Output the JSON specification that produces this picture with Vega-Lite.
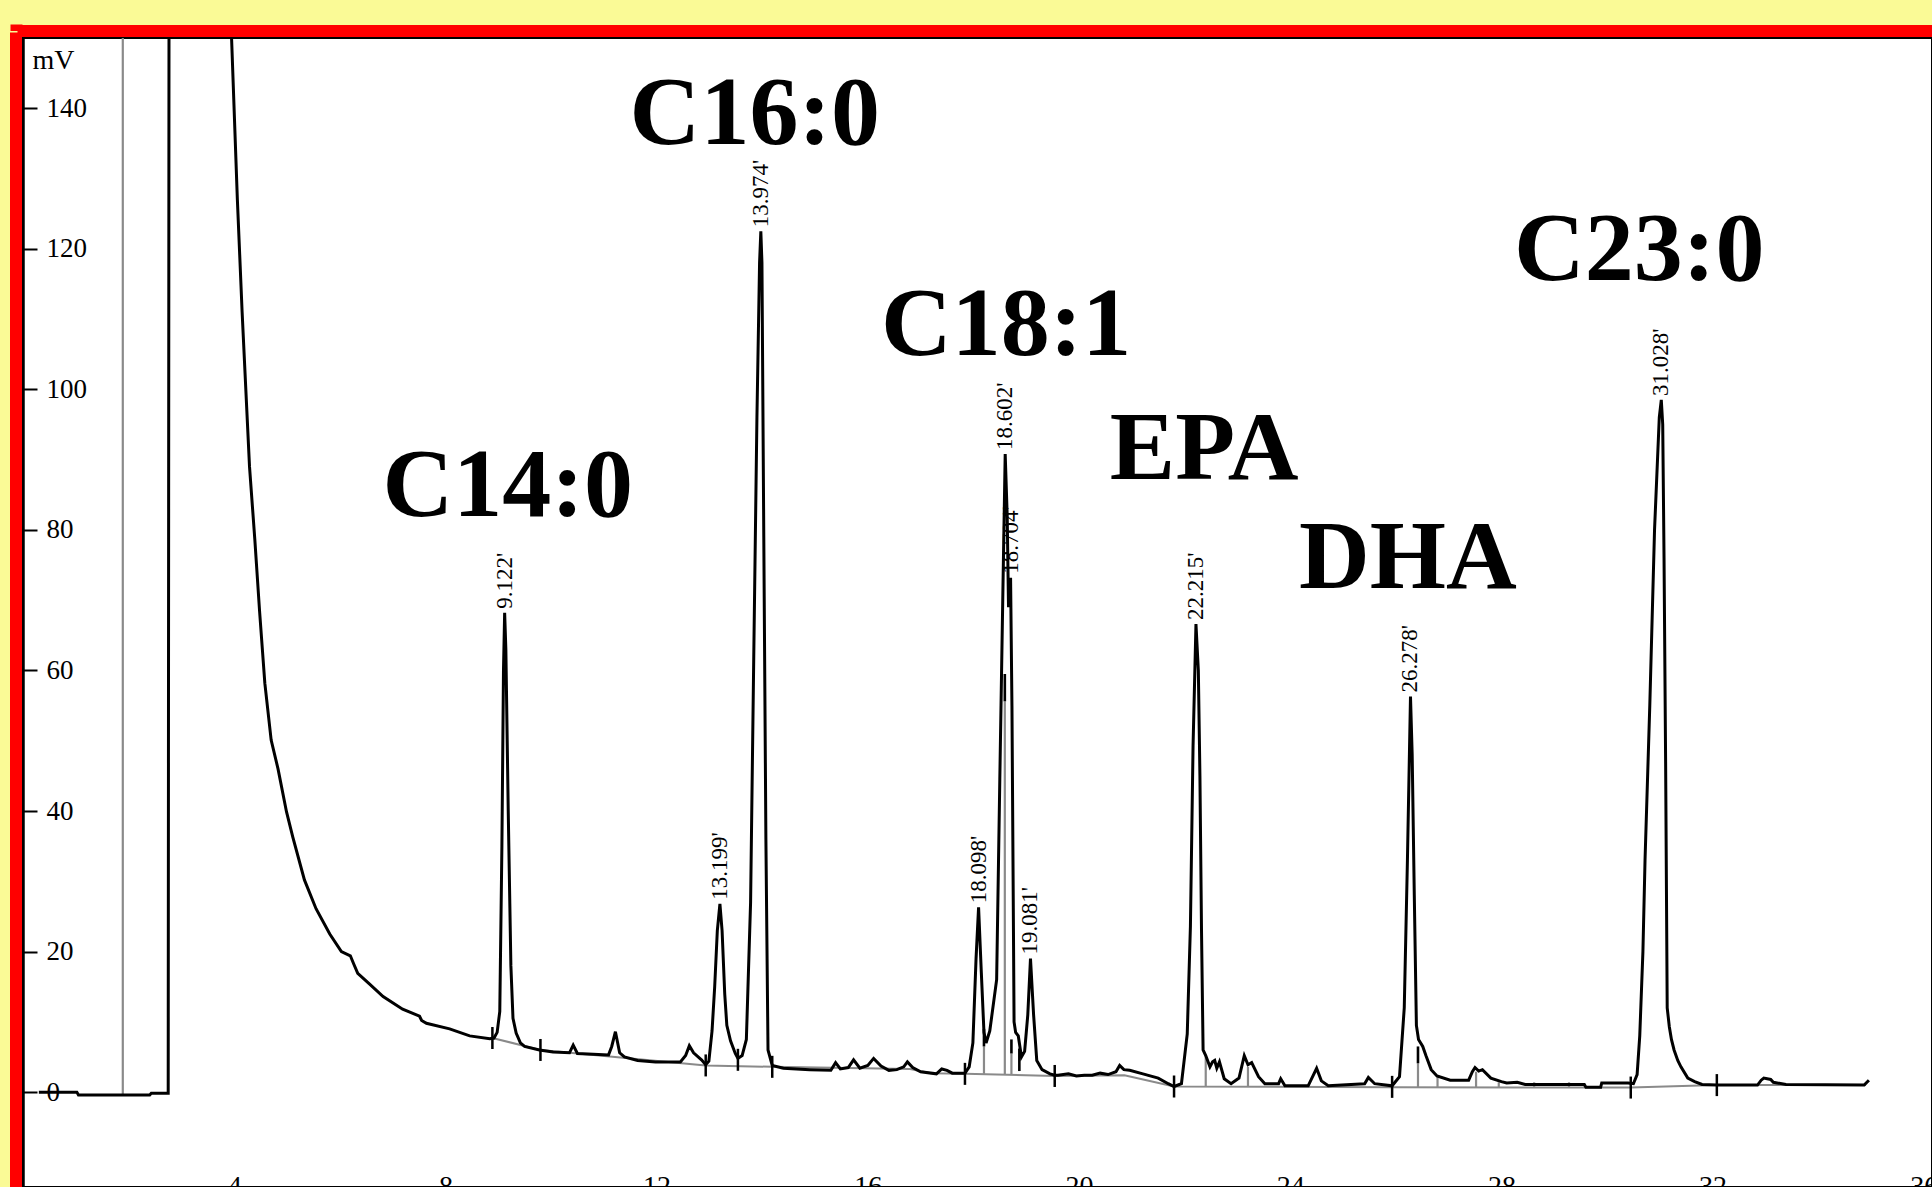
{
  "$schema": "https://vega.github.io/schema/vega-lite/v6.json",
  "width": 1909,
  "height": 1149,
  "autosize": {"type": "none"},
  "padding": {"left": 23, "top": 38, "right": 0, "bottom": 0},
  "background": "#fafa96",
  "config": {"view": {"fill": "white", "stroke": "black", "strokeWidth": 2}, "font": "Liberation Serif"},
  "datasets": {
    "trace": [
      {"t":0.3,"mV":0},{"t":1.02,"mV":0},{"t":1.05,"mV":-0.4},{"t":2.40,"mV":-0.4},{"t":2.43,"mV":-0.15},{"t":2.75,"mV":-0.15},{"t":2.78,"mV":300},{"t":3.88,"mV":165},{"t":3.95,"mV":150},{"t":4.06,"mV":127},{"t":4.15,"mV":111},{"t":4.29,"mV":89},{"t":4.39,"mV":78.7},{"t":4.48,"mV":68.5},{"t":4.58,"mV":58.2},{"t":4.70,"mV":50.1},{"t":4.83,"mV":46.0},{"t":4.99,"mV":39.9},{"t":5.11,"mV":36.3},{"t":5.33,"mV":30.2},{"t":5.55,"mV":26.1},{"t":5.81,"mV":22.5},{"t":6.03,"mV":20.0},{"t":6.20,"mV":19.4},{"t":6.26,"mV":18.3},{"t":6.34,"mV":16.9},{"t":6.56,"mV":15.4},{"t":6.82,"mV":13.6},{"t":7.19,"mV":11.8},{"t":7.51,"mV":10.8},{"t":7.55,"mV":10.2},{"t":7.64,"mV":9.8},{"t":8.08,"mV":9.0},{"t":8.46,"mV":8.0},{"t":8.84,"mV":7.6},
      {"t":8.92,"mV":7.7},{"t":8.98,"mV":8.5},{"t":9.03,"mV":11.5},{"t":9.07,"mV":35},{"t":9.10,"mV":60},{"t":9.122,"mV":68.2},{"t":9.145,"mV":63},{"t":9.19,"mV":40},{"t":9.24,"mV":18},{"t":9.28,"mV":10.5},{"t":9.34,"mV":8.4},{"t":9.42,"mV":7.0},{"t":9.50,"mV":6.5},{"t":9.78,"mV":6.0},{"t":10.04,"mV":5.7},{"t":10.35,"mV":5.6},{"t":10.42,"mV":6.7},{"t":10.50,"mV":5.5},{"t":10.80,"mV":5.4},{"t":11.09,"mV":5.3},{"t":11.15,"mV":6.5},{"t":11.22,"mV":8.6},{"t":11.30,"mV":5.6},{"t":11.39,"mV":5.0},{"t":11.64,"mV":4.5},{"t":11.98,"mV":4.3},{"t":12.45,"mV":4.3},{"t":12.55,"mV":5.2},{"t":12.62,"mV":6.6},{"t":12.70,"mV":5.6},{"t":12.85,"mV":4.6},{"t":12.93,"mV":3.9},
      {"t":12.99,"mV":4.4},{"t":13.05,"mV":8.7},{"t":13.10,"mV":15},{"t":13.15,"mV":23},{"t":13.199,"mV":26.8},{"t":13.24,"mV":23},{"t":13.29,"mV":14},{"t":13.33,"mV":9.5},{"t":13.40,"mV":7.3},{"t":13.49,"mV":5.5},{"t":13.54,"mV":4.8},{"t":13.62,"mV":5.2},{"t":13.70,"mV":7.5},{"t":13.78,"mV":27},{"t":13.84,"mV":62},{"t":13.90,"mV":96},{"t":13.95,"mV":118},{"t":13.974,"mV":122.5},{"t":13.995,"mV":118},{"t":14.03,"mV":79},{"t":14.07,"mV":36},{"t":14.11,"mV":6},{"t":14.19,"mV":3.8},
      {"t":14.40,"mV":3.4},{"t":14.90,"mV":3.2},{"t":15.30,"mV":3.1},{"t":15.39,"mV":4.2},{"t":15.48,"mV":3.3},{"t":15.63,"mV":3.5},{"t":15.73,"mV":4.6},{"t":15.85,"mV":3.4},{"t":16.00,"mV":3.8},{"t":16.11,"mV":4.8},{"t":16.25,"mV":3.7},{"t":16.40,"mV":3.1},{"t":16.55,"mV":3.2},{"t":16.68,"mV":3.6},{"t":16.75,"mV":4.3},{"t":16.85,"mV":3.5},{"t":17.00,"mV":2.9},{"t":17.30,"mV":2.6},{"t":17.40,"mV":3.3},{"t":17.50,"mV":3.1},{"t":17.60,"mV":2.7},{"t":17.84,"mV":2.7},
      {"t":17.92,"mV":3.6},{"t":17.99,"mV":7.0},{"t":18.05,"mV":19},{"t":18.098,"mV":26.3},{"t":18.15,"mV":17},{"t":18.20,"mV":8.5},{"t":18.24,"mV":7.0},{"t":18.31,"mV":8.7},{"t":18.44,"mV":16},{"t":18.50,"mV":44.5},{"t":18.56,"mV":72},{"t":18.602,"mV":90.8},{"t":18.64,"mV":82},{"t":18.665,"mV":69},{"t":18.704,"mV":73.2},{"t":18.73,"mV":55},{"t":18.77,"mV":10},{"t":18.80,"mV":8.5},{"t":18.85,"mV":8.0},{"t":18.91,"mV":5.0},{"t":18.97,"mV":5.8},{"t":19.03,"mV":11},{"t":19.081,"mV":19},{"t":19.14,"mV":11},{"t":19.20,"mV":4.5},{"t":19.30,"mV":3.2},{"t":19.45,"mV":2.6},{"t":19.54,"mV":2.4},
      {"t":19.60,"mV":2.4},{"t":19.80,"mV":2.6},{"t":19.95,"mV":2.3},{"t":20.10,"mV":2.4},{"t":20.25,"mV":2.4},{"t":20.40,"mV":2.7},{"t":20.55,"mV":2.5},{"t":20.70,"mV":2.9},{"t":20.77,"mV":3.8},{"t":20.85,"mV":3.2},{"t":20.96,"mV":3.1},{"t":21.21,"mV":2.6},{"t":21.50,"mV":2.0},{"t":21.69,"mV":1.2},{"t":21.80,"mV":0.8},
      {"t":21.94,"mV":1.2},{"t":22.05,"mV":8.3},{"t":22.11,"mV":23.6},{"t":22.16,"mV":49.3},{"t":22.215,"mV":66.6},{"t":22.26,"mV":60},{"t":22.29,"mV":45},{"t":22.32,"mV":23},{"t":22.35,"mV":6},{"t":22.40,"mV":5.2},{"t":22.48,"mV":3.6},{"t":22.53,"mV":4.3},{"t":22.57,"mV":4.5},{"t":22.61,"mV":3.4},{"t":22.66,"mV":4.3},{"t":22.75,"mV":1.9},{"t":22.88,"mV":1.2},{"t":23.03,"mV":2.0},{"t":23.13,"mV":5.2},{"t":23.20,"mV":3.9},{"t":23.27,"mV":4.2},{"t":23.40,"mV":2.2},{"t":23.52,"mV":1.2},{"t":23.78,"mV":1.2},{"t":23.82,"mV":1.9},{"t":23.90,"mV":0.9},{"t":24.34,"mV":0.9},{"t":24.50,"mV":3.4},{"t":24.59,"mV":1.6},{"t":24.72,"mV":0.9},{"t":25.41,"mV":1.2},{"t":25.48,"mV":2.1},{"t":25.60,"mV":1.2},{"t":25.93,"mV":0.9},
      {"t":26.07,"mV":2.2},{"t":26.16,"mV":12},{"t":26.22,"mV":33},{"t":26.278,"mV":56.3},{"t":26.31,"mV":48},{"t":26.35,"mV":28},{"t":26.39,"mV":9.5},{"t":26.43,"mV":7.5},{"t":26.51,"mV":6.5},{"t":26.57,"mV":5.2},{"t":26.67,"mV":3.2},{"t":26.78,"mV":2.3},{"t":27.03,"mV":1.7},{"t":27.38,"mV":1.7},{"t":27.45,"mV":2.9},{"t":27.50,"mV":3.5},{"t":27.57,"mV":3.0},{"t":27.64,"mV":3.2},{"t":27.80,"mV":2.0},{"t":28.00,"mV":1.5},{"t":28.10,"mV":1.3},{"t":28.30,"mV":1.4},{"t":28.45,"mV":1.1},{"t":29.57,"mV":1.1},{"t":29.60,"mV":0.7},{"t":29.88,"mV":0.7},{"t":29.90,"mV":1.3},{"t":30.40,"mV":1.3},{"t":30.50,"mV":1.2},
      {"t":30.57,"mV":2.5},{"t":30.62,"mV":8},{"t":30.68,"mV":20},{"t":30.72,"mV":33},{"t":30.81,"mV":55},{"t":30.90,"mV":80},{"t":30.99,"mV":96},{"t":31.028,"mV":98.5},{"t":31.055,"mV":95},{"t":31.08,"mV":76},{"t":31.11,"mV":47},{"t":31.14,"mV":12},{"t":31.18,"mV":9.3},{"t":31.22,"mV":7.5},{"t":31.27,"mV":6.0},{"t":31.34,"mV":4.5},{"t":31.40,"mV":3.6},{"t":31.53,"mV":2.0},{"t":31.66,"mV":1.5},{"t":31.80,"mV":1.1},{"t":32.08,"mV":1.0},{"t":32.85,"mV":1.0},{"t":32.92,"mV":1.7},{"t":32.97,"mV":2.0},{"t":33.10,"mV":1.8},{"t":33.15,"mV":1.4},{"t":33.39,"mV":1.1},{"t":34.87,"mV":1.0},{"t":34.96,"mV":1.7}
    ],
    "baseline": [
      {"t":8.89,"mV":7.7},{"t":9.80,"mV":6.0},{"t":12.93,"mV":3.8},{"t":14.19,"mV":3.6},{"t":16.8,"mV":3.3},{"t":17.2,"mV":2.7},{"t":17.84,"mV":2.6},{"t":19.54,"mV":2.3},{"t":20.86,"mV":2.4},{"t":21.80,"mV":0.8},{"t":25.93,"mV":0.7},{"t":30.45,"mV":0.65},{"t":32.08,"mV":1.0},{"t":34.9,"mV":1.0}
    ],
    "plus": [
      {"t":8.89,"mV":7.7},{"t":9.80,"mV":6.0},{"t":12.93,"mV":3.8},{"t":13.54,"mV":4.6},{"t":14.19,"mV":3.6},{"t":17.84,"mV":2.6},{"t":19.54,"mV":2.3},{"t":21.80,"mV":0.8},{"t":25.93,"mV":0.75},{"t":30.45,"mV":0.65},{"t":32.08,"mV":1.0}
    ],
    "drops": [
      {"t":1.89,"y1":-0.4,"y2":150},
      {"t":18.20,"y1":2.6,"y2":6.5},{"t":18.595,"y1":2.5,"y2":55.6},{"t":18.72,"y1":2.5,"y2":5.5},
      {"t":22.40,"y1":0.8,"y2":5.2},{"t":23.20,"y1":0.8,"y2":3.6},
      {"t":26.42,"y1":0.7,"y2":4.1},{"t":26.79,"y1":0.7,"y2":2.2},{"t":27.52,"y1":0.7,"y2":2.9},{"t":27.95,"y1":0.7,"y2":1.4},{"t":28.62,"y1":0.7,"y2":1.4},{"t":29.28,"y1":0.7,"y2":1.4}
    ],
    "seps": [
      {"t":18.20,"y1":6.5,"y2":9.0},{"t":18.595,"y1":55.6,"y2":59.5},{"t":18.72,"y1":5.5,"y2":7.5},{"t":18.87,"y1":3.0,"y2":6.2},{"t":26.42,"y1":4.1,"y2":6.5}
    ],
    "peaks": [
      {"t":9.122,"mV":68.2,"label":"9.122'"},
      {"t":13.199,"mV":26.8,"label":"13.199'"},
      {"t":13.974,"mV":122.5,"label":"13.974'"},
      {"t":18.098,"mV":26.3,"label":"18.098'"},
      {"t":18.602,"mV":90.8,"label":"18.602'"},
      {"t":18.704,"mV":73.2,"label":"18.704'"},
      {"t":19.081,"mV":19,"label":"19.081'"},
      {"t":22.215,"mV":66.6,"label":"22.215'"},
      {"t":26.278,"mV":56.3,"label":"26.278'"},
      {"t":31.028,"mV":98.5,"label":"31.028'"}
    ],
    "compounds": [
      {"name":"C14:0","t":9.18,"mV":82.0},
      {"name":"C16:0","t":13.86,"mV":134.9},
      {"name":"C18:1","t":18.62,"mV":104.9},
      {"name":"EPA","t":22.37,"mV":87.3},
      {"name":"DHA","t":26.23,"mV":71.7},
      {"name":"C23:0","t":30.61,"mV":115.6}
    ]
  },
  "resolve": {"axis": {"x": "independent", "y": "independent"}},
  "encoding": {
    "x": {"field": "t", "type": "quantitative", "scale": {"domain": [0, 36.155], "nice": false, "zero": false}, "axis": null},
    "y": {"field": "mV", "type": "quantitative", "scale": {"domain": [-13.5, 150], "nice": false, "zero": false}, "axis": null}
  },
  "layer": [
    {
      "data": {"name": "baseline"},
      "mark": {"type": "line", "color": "#8a8a8a", "strokeWidth": 2},
      "encoding": {
        "x": {"field": "t", "type": "quantitative", "scale": {"domain": [0, 36.155], "nice": false, "zero": false},
          "axis": {"orient": "top", "offset": 7.5, "domain": true, "domainColor": "#ff0000", "domainWidth": 12, "domainCap": "square", "labels": false, "ticks": true, "values": [0], "tickColor": "#ff0000", "tickWidth": 12, "tickSize": 6.5, "tickOffset": -7, "grid": false, "title": null}},
        "y": {"field": "mV", "type": "quantitative", "scale": {"domain": [-13.5, 150], "nice": false, "zero": false},
          "axis": {"orient": "left", "offset": 7.5, "domain": true, "domainColor": "#ff0000", "domainWidth": 12, "domainCap": "square", "labels": false, "ticks": false, "grid": false, "title": null}}
      }
    },
    {
      "data": {"name": "drops"},
      "mark": {"type": "rule", "color": "#8a8a8a", "strokeWidth": 2.2},
      "encoding": {
        "x": {"field": "t", "type": "quantitative", "scale": {"domain": [0, 36.155], "nice": false, "zero": false},
          "axis": {"orient": "bottom", "values": [4, 8, 12, 16, 20, 24, 28, 32, 36], "domain": false, "ticks": false, "grid": false, "labelPadding": 0, "offset": -15, "labelBaseline": "top", "labelFont": "Liberation Serif", "labelFontSize": 28, "labelColor": "black", "labelFlush": false, "labelOverlap": false, "title": null}},
        "y": {"field": "y1", "type": "quantitative", "scale": {"domain": [-13.5, 150], "nice": false, "zero": false},
          "axis": {"orient": "left", "values": [0, 20, 40, 60, 80, 100, 120, 140], "domain": true, "domainColor": "black", "domainWidth": 2.5, "ticks": true, "tickSize": -14, "tickWidth": 2, "tickColor": "black", "labelPadding": -9, "labelAlign": "left", "labelBaseline": "middle", "labelFont": "Liberation Serif", "labelFontSize": 27, "labelColor": "black", "labelFlush": false, "labelOverlap": false, "grid": false, "title": "mV", "titleAngle": 0, "titleX": 9, "titleY": 30, "titleAlign": "left", "titleBaseline": "alphabetic", "titleFont": "Liberation Serif", "titleFontSize": 28, "titleFontWeight": "normal", "titleColor": "black", "titlePadding": 0}},
        "y2": {"field": "y2"}
      }
    },
    {
      "data": {"name": "trace"},
      "mark": {"type": "line", "color": "black", "strokeWidth": 3, "clip": true},
      "encoding": {}
    },
    {
      "data": {"name": "seps"},
      "mark": {"type": "rule", "color": "black", "strokeWidth": 2.6},
      "encoding": {
        "y": {"field": "y1", "type": "quantitative", "scale": {"domain": [-13.5, 150], "nice": false, "zero": false}, "axis": null},
        "y2": {"field": "y2"}
      }
    },
    {
      "data": {"name": "plus"},
      "mark": {"type": "tick", "orient": "vertical", "color": "black", "size": 22, "thickness": 2.5, "opacity": 1},
      "encoding": {}
    },
    {
      "data": {"name": "peaks"},
      "mark": {"type": "text", "angle": 270, "align": "left", "baseline": "middle", "dx": 4, "font": "Liberation Serif", "fontSize": 23, "color": "black"},
      "encoding": {"text": {"field": "label"}}
    },
    {
      "data": {"name": "compounds"},
      "mark": {"type": "text", "align": "center", "baseline": "alphabetic", "font": "Liberation Serif", "fontWeight": "bold", "fontSize": 98, "color": "black"},
      "encoding": {"text": {"field": "name"}}
    }
  ]
}
